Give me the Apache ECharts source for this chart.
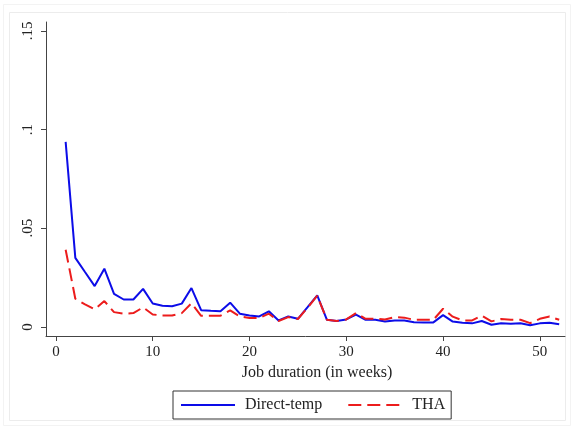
<!DOCTYPE html>
<html>
<head>
<meta charset="utf-8">
<script src="https://cdn.jsdelivr.net/npm/echarts@6/dist/echarts.min.js"></script>
<style>html,body{margin:0;padding:0;background:#fff;}#c{width:575px;height:430px;}</style>
</head>
<body>
<div id="c"></div>
<script>
var weeks = [];
for (var i = 1; i <= 52; i++) weeks.push(i);
var directTemp = [0.0938,0.0350,0.0278,0.0207,0.0295,0.0168,0.0139,0.0139,0.0193,0.0119,
  0.0107,0.0105,0.0118,0.0197,0.0085,0.0082,0.0080,0.0123,0.0067,0.0058,
  0.0053,0.0079,0.0033,0.0053,0.0041,0.0100,0.0160,0.0036,0.0030,0.0038,
  0.0062,0.0036,0.0036,0.0028,0.0033,0.0033,0.0024,0.0023,0.0023,0.0060,
  0.0027,0.0021,0.0018,0.0030,0.0011,0.0019,0.0016,0.0019,0.0009,0.0018,
  0.0021,0.0013];
var tha = [0.0391,0.0143,0.0114,0.0089,0.0131,0.0075,0.0067,0.0070,0.0099,0.0063,
  0.0058,0.0058,0.0070,0.0120,0.0056,0.0057,0.0057,0.0084,0.0053,0.0045,
  0.0045,0.0067,0.0030,0.0050,0.0040,0.0097,0.0158,0.0036,0.0030,0.0038,
  0.0070,0.0041,0.0041,0.0038,0.0050,0.0047,0.0036,0.0036,0.0036,0.0092,
  0.0052,0.0033,0.0033,0.0057,0.0028,0.0040,0.0036,0.0036,0.0019,0.0041,
  0.0053,0.0036];
var xTicks = [0, 10, 20, 30, 40, 50];
var yTicks = [0, 0.05, 0.1, 0.15];
var yTickLabels = ['0', '.05', '.1', '.15'];

function pairs(vals) { return weeks.map(function (w, i) { return [w, vals[i]]; }); }

var font = 'Liberation Serif';
var chart = echarts.init(document.getElementById('c'), null, {renderer: 'canvas'});
chart.setOption({
  animation: false,
  backgroundColor: '#fff',
  grid: {left: 46, right: 10, top: 22, bottom: 94, containLabel: false},
  title: {
    text: 'Job duration (in weeks)', left: 312, top: 360, textAlign: 'center',
    textStyle: {fontFamily: font, fontSize: 16, fontWeight: 'normal', color: '#222'}
  },
  legend: {
    left: 173, top: 391,
    itemWidth: 54, itemHeight: 14, itemGap: 25,
    padding: [6, 6, 6, 7],
    borderColor: '#333', borderWidth: 1,
    itemStyle: {opacity: 0},
    textStyle: {fontFamily: font, fontSize: 16, color: '#222', padding: [0, 0, 0, 5]},
    data: ['Direct-temp', 'THA']
  },
  xAxis: {
    type: 'value', min: -1.03, max: 52.6,
    axisLine: {show: true, onZero: false, lineStyle: {color: '#444', width: 1}},
    axisTick: {show: true, length: 5, customValues: xTicks, lineStyle: {color: '#444'}},
    axisLabel: {customValues: xTicks, fontFamily: font, fontSize: 15, color: '#222', margin: 9},
    splitLine: {show: false}
  },
  yAxis: {
    type: 'value', min: -0.0046, max: 0.1545,
    axisLine: {show: true, onZero: false, lineStyle: {color: '#444', width: 1}},
    axisTick: {show: true, length: 5, customValues: yTicks, lineStyle: {color: '#444'}},
    axisLabel: {
      customValues: yTicks, rotate: 90, fontFamily: font, fontSize: 15, color: '#222', margin: 10,
      formatter: function (v) {
        for (var i = 0; i < yTicks.length; i++) if (Math.abs(v - yTicks[i]) < 1e-9) return yTickLabels[i];
        return '';
      }
    },
    splitLine: {show: false}
  },
  graphic: [
    {type: 'rect', shape: {x: 3.5, y: 4.5, width: 567, height: 421}, style: {fill: 'none', stroke: '#f3f3f3', lineWidth: 1}, silent: true},
    {type: 'rect', shape: {x: 9.5, y: 12.5, width: 556, height: 408}, style: {fill: 'none', stroke: '#ececec', lineWidth: 1}, silent: true}
  ],
  series: [
    {name: 'Direct-temp', type: 'line', data: pairs(directTemp), symbol: 'none',
     lineStyle: {color: '#0c0ce8', width: 2}, itemStyle: {color: '#0c0ce8'}},
    {name: 'THA', type: 'line', data: pairs(tha), symbol: 'none',
     lineStyle: {color: '#ec1c1c', width: 2, type: [13, 6]}, itemStyle: {color: '#ec1c1c'}}
  ]
});
</script>
</body>
</html>
